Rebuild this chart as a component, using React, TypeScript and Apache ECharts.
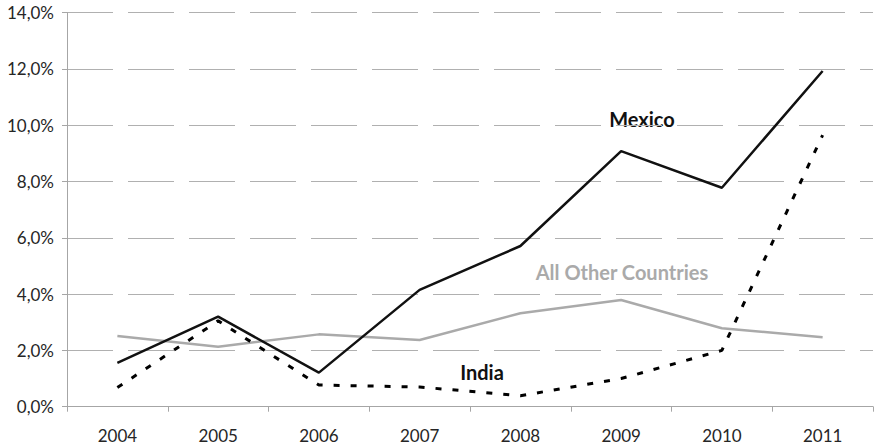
import React, { useEffect, useRef } from "react";
import * as echarts from "echarts";

const years = ["2004", "2005", "2006", "2007", "2008", "2009", "2010", "2011"];
const mexico = [1.56, 3.2, 1.21, 4.15, 5.71, 9.08, 7.78, 11.93];
const india = [0.68, 3.05, 0.77, 0.7, 0.39, 1.0, 2.0, 9.65];
const others = [2.51, 2.13, 2.57, 2.37, 3.32, 3.79, 2.79, 2.47];
const yTicks = [0, 2, 4, 6, 8, 10, 12, 14];

const FONT = "Lato, 'Open Sans', sans-serif";

export default function App() {
  const ref = useRef<HTMLDivElement>(null);
  useEffect(() => {
    if (!ref.current) return;
    const chart = echarts.init(ref.current, undefined, { renderer: "svg" });
    chart.setOption({
      animation: false,
      backgroundColor: "#ffffff",
      textStyle: { fontFamily: FONT },
      grid: { left: 67, right: 1, top: 12.7, bottom: 40.3, containLabel: false },
      xAxis: {
        type: "category",
        data: years,
        boundaryGap: true,
        axisLine: { lineStyle: { color: "#a6a6a6", width: 1 } },
        axisTick: { show: true, length: 5, lineStyle: { color: "#a6a6a6" } },
        axisLabel: { color: "#262626", fontSize: 17, margin: 20, fontFamily: FONT },
        splitLine: { show: false },
      },
      yAxis: {
        type: "value",
        min: 0,
        max: 14,
        interval: 2,
        axisLine: { show: true, lineStyle: { color: "#a6a6a6", width: 1 } },
        axisTick: { show: true, length: 5, lineStyle: { color: "#a6a6a6" } },
        axisLabel: {
          color: "#262626",
          fontSize: 17,
          margin: 13,
          fontFamily: FONT,
          formatter: (v: number) =>
            yTicks.includes(v) ? v.toFixed(1).replace(".", ",") + "%" : "",
        },
        splitLine: {
          show: true,
          lineStyle: { color: "#b0b0b0", width: 1, type: [46, 15] },
        },
      },
      series: [
        {
          name: "All Other Countries",
          type: "line",
          data: others,
          symbol: "none",
          lineStyle: { color: "#aaaaaa", width: 2.5 },
          z: 2,
        },
        {
          name: "India",
          type: "line",
          data: india,
          symbol: "none",
          lineStyle: { color: "#000000", width: 3, type: [6, 11] },
          z: 3,
        },
        {
          name: "Mexico",
          type: "line",
          data: mexico,
          symbol: "none",
          lineStyle: { color: "#111111", width: 2.5 },
          z: 4,
        },
      ],
      graphic: [
        {
          type: "text",
          x: 642,
          y: 119,
          style: {
            text: "Mexico",
            fill: "#111111",
            font: `bold 20px ${FONT}`,
            align: "center",
            verticalAlign: "middle",
          },
        },
        {
          type: "text",
          x: 622,
          y: 272,
          style: {
            text: "All Other Countries",
            fill: "#aaaaaa",
            font: `bold 20px ${FONT}`,
            align: "center",
            verticalAlign: "middle",
          },
        },
        {
          type: "text",
          x: 482,
          y: 372,
          style: {
            text: "India",
            fill: "#111111",
            font: `bold 20px ${FONT}`,
            align: "center",
            verticalAlign: "middle",
          },
        },
      ],
    });
    return () => chart.dispose();
  }, []);
  return (
    <div
      ref={ref}
      style={{ position: "fixed", left: 0, top: 0, width: 874, height: 447 }}
    />
  );
}
